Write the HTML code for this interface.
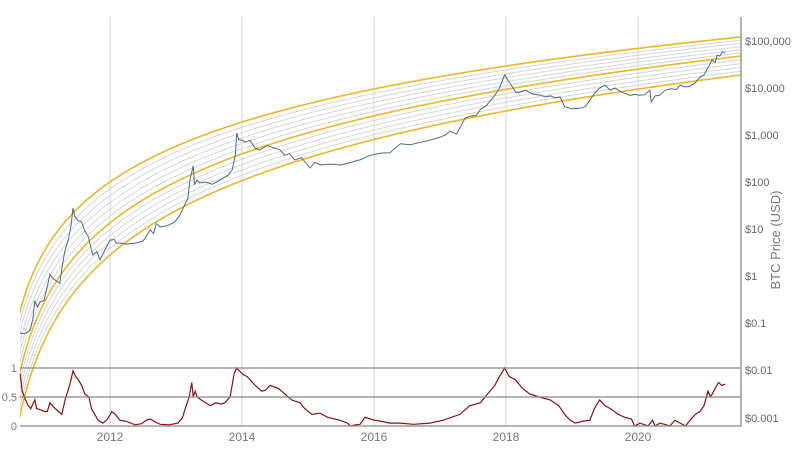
<!DOCTYPE html>
<html><head><meta charset="utf-8"><style>
html,body{margin:0;padding:0;background:#fff;}
svg{display:block;font-family:"Liberation Sans",sans-serif;}
</style></head><body>
<svg id="chart" width="800" height="460" viewBox="0 0 800 460">
<g id="grid"></g>
<g id="bands"></g>
<g id="series"></g>
<g id="axes"></g>
<text x="780" y="240" transform="rotate(-90 780 240)" text-anchor="middle" font-size="13" fill="#777">BTC Price (USD)</text>
</svg>
<script>
const xYears=[2012,2014,2016,2018,2020];
const priceTicks=[100000,10000,1000,100,10,1,0.1,0.01,0.001];
const priceTickLabels=["$100,000","$10,000","$1,000","$100","$10","$1","$0.1","$0.01","$0.001"];
const oscTicks=[1,0.5,0];
const oscTickLabels=["1","0.5","0"];
const bandStart=[2.0,1.13,0.447];
const bandEnd=[5.085,4.68,4.277];
const priceDates=[2010.64,2010.72,2010.79,2010.83,2010.86,2010.9,2010.94,2011.0,2011.05,2011.09,2011.13,2011.18,2011.24,2011.28,2011.32,2011.37,2011.41,2011.44,2011.47,2011.52,2011.57,2011.62,2011.67,2011.71,2011.74,2011.8,2011.85,2011.92,2012.0,2012.06,2012.1,2012.15,2012.25,2012.38,2012.5,2012.61,2012.66,2012.7,2012.76,2012.88,2012.98,2013.06,2013.12,2013.18,2013.21,2013.26,2013.28,2013.32,2013.36,2013.44,2013.55,2013.67,2013.79,2013.85,2013.9,2013.92,2013.95,2014.0,2014.05,2014.12,2014.2,2014.27,2014.38,2014.5,2014.58,2014.65,2014.72,2014.8,2014.9,2015.03,2015.1,2015.2,2015.33,2015.5,2015.64,2015.8,2015.94,2016.1,2016.24,2016.4,2016.55,2016.7,2016.85,2017.0,2017.08,2017.15,2017.25,2017.38,2017.45,2017.55,2017.61,2017.7,2017.83,2017.9,2017.98,2018.04,2018.09,2018.15,2018.21,2018.3,2018.4,2018.52,2018.6,2018.68,2018.74,2018.82,2018.89,2019.0,2019.12,2019.2,2019.27,2019.35,2019.42,2019.5,2019.58,2019.65,2019.75,2019.88,2019.95,2020.03,2020.1,2020.18,2020.2,2020.26,2020.33,2020.41,2020.5,2020.58,2020.64,2020.72,2020.79,2020.87,2020.94,2021.0,2021.04,2021.09,2021.12,2021.17,2021.2,2021.24,2021.28,2021.32];
const priceValues=[0.06,0.06,0.07,0.12,0.3,0.22,0.28,0.3,0.6,1.1,0.9,0.8,0.7,1.8,3.5,6,12,28,18,15,14,9,7,4,2.8,3.3,2.2,3.5,5.8,6,5,5,4.8,5,5.5,9.5,8,13,11,12,14,20,30,45,110,220,90,110,95,100,90,110,140,180,375,1100,800,780,700,780,520,480,600,520,480,370,400,295,330,200,260,230,240,230,260,300,370,410,420,650,620,700,780,900,1000,1200,1050,2300,2500,2600,3500,4200,7000,10000,19000,14000,11000,8000,8200,9000,7500,7000,6500,6800,6200,6400,4000,3600,3700,4000,5500,8000,10000,11500,9000,10000,8200,7000,7300,7000,7200,9000,5000,6800,7000,9000,9600,9300,11500,10500,11000,13000,17000,19000,24000,32000,40000,35000,50000,48000,58000,55000,60000];
const oscDates=[2010.64,2010.67,2010.72,2010.76,2010.8,2010.82,2010.86,2010.89,2010.95,2011.0,2011.05,2011.09,2011.13,2011.17,2011.22,2011.27,2011.32,2011.36,2011.4,2011.44,2011.48,2011.52,2011.57,2011.62,2011.68,2011.72,2011.77,2011.82,2011.89,2011.95,2012.03,2012.08,2012.15,2012.25,2012.38,2012.48,2012.55,2012.61,2012.7,2012.76,2012.9,2013.03,2013.1,2013.14,2013.2,2013.24,2013.26,2013.29,2013.32,2013.38,2013.52,2013.6,2013.68,2013.74,2013.82,2013.88,2013.92,2013.96,2014.0,2014.08,2014.2,2014.3,2014.36,2014.42,2014.55,2014.65,2014.75,2014.88,2014.95,2015.06,2015.18,2015.3,2015.48,2015.6,2015.64,2015.72,2015.79,2015.86,2015.95,2016.0,2016.12,2016.24,2016.39,2016.6,2016.85,2017.05,2017.3,2017.45,2017.61,2017.72,2017.83,2017.9,2017.98,2018.05,2018.14,2018.25,2018.36,2018.5,2018.67,2018.8,2018.89,2018.97,2019.05,2019.15,2019.27,2019.34,2019.42,2019.5,2019.58,2019.7,2019.8,2019.9,2019.95,2020.03,2020.1,2020.15,2020.22,2020.26,2020.33,2020.4,2020.48,2020.56,2020.64,2020.72,2020.79,2020.87,2020.94,2021.0,2021.06,2021.1,2021.17,2021.22,2021.27,2021.32];
const oscValues=[0.9,0.6,0.45,0.35,0.3,0.35,0.45,0.3,0.28,0.25,0.25,0.4,0.35,0.3,0.25,0.2,0.45,0.6,0.75,0.95,0.85,0.8,0.7,0.55,0.5,0.3,0.2,0.1,0.05,0.1,0.25,0.2,0.1,0.08,0.02,0.04,0.1,0.12,0.06,0.03,0.02,0.05,0.15,0.3,0.5,0.75,0.5,0.6,0.5,0.45,0.35,0.4,0.38,0.4,0.5,0.9,1.0,0.95,0.9,0.85,0.7,0.6,0.62,0.7,0.65,0.55,0.45,0.4,0.3,0.2,0.22,0.15,0.1,0.05,0.0,0.02,0.03,0.15,0.12,0.1,0.08,0.05,0.05,0.03,0.05,0.1,0.2,0.35,0.4,0.55,0.7,0.85,1.0,0.85,0.8,0.65,0.55,0.5,0.45,0.35,0.2,0.1,0.05,0.08,0.1,0.3,0.45,0.35,0.3,0.2,0.15,0.12,0.0,0.05,0.02,0.0,0.1,0.0,0.05,0.03,0.0,0.1,0.05,0.0,0.1,0.2,0.25,0.35,0.6,0.5,0.65,0.75,0.7,0.72];

const NS="http://www.w3.org/2000/svg";
const X0=20,X1=741,TOP=17,BOT=426;
function xScale(yr){return 110+(yr-2012)*66;}
function yPrice(p){return 41+(5-Math.log10(p))*47;}
function yLog(l){return 41+(5-l)*47;}
function yOsc(v){return 426-v*58;}
function mk(tag,attrs,parent){const e=document.createElementNS(NS,tag);for(const k in attrs)e.setAttribute(k,attrs[k]);parent.appendChild(e);return e;}
const grid=document.getElementById('grid'),bands=document.getElementById('bands'),series=document.getElementById('series'),axes=document.getElementById('axes');

xYears.forEach((yr,i)=>{
  const x=xScale(yr);
  const l=mk('line',{x1:x,x2:x,y1:TOP,y2:BOT,stroke:'#d4d4d4','stroke-width':1},grid);
  
  
  const t=mk('text',{x:x,y:441,'text-anchor':'middle','font-size':12,fill:'#777'},axes);
  t.textContent=String(yr);
  
  
});

const defs=mk('defs',{},document.getElementById('chart'));
const cp=mk('clipPath',{id:'clipMain'},defs);
mk('rect',{x:X0,y:TOP,width:X1-X0,height:BOT-TOP},cp);
bands.setAttribute('clip-path','url(#clipMain)');
function bandPath(a,b){
  const lx0=Math.log10(110),lx1=Math.log10(741);
  const s=(b-a)/(lx1-lx0);
  let d='';
  for(let x=X0-2;x<=X1;x+=1){const v=a+s*(Math.log10(x)-lx0);d+=(d?'L':'M')+x+','+yLog(v).toFixed(2);}
  return d;
}
const lines=[];
for(let k=0;k<2;k++){
  const n=k===0?6:5;
  for(let j=0;j<=n;j++){
    if(k===1&&j===0)continue;
    const f=j/n;
    lines.push({a:bandStart[k]+(bandStart[k+1]-bandStart[k])*f,b:bandEnd[k]+(bandEnd[k+1]-bandEnd[k])*f,main:(j===0||j===n)});
  }
}
lines.filter(l=>!l.main).forEach((l,i)=>{
  const p=mk('path',{d:bandPath(l.a,l.b),fill:'none',stroke:'#d6d6d6','stroke-width':1},bands);
  
  
});
lines.filter(l=>l.main).forEach((l,i)=>{
  const p=mk('path',{d:bandPath(l.a,l.b),fill:'none',stroke:'#f0b429','stroke-width':1.6},bands);
  
  
});

oscTicks.forEach((v,i)=>{
  const y=yOsc(v);
  const l=mk('line',{x1:X0,x2:X1,y1:y,y2:y,stroke:'#888','stroke-width':1.3},axes);
  
  
  const t=mk('text',{x:17,y:y+4,'text-anchor':'end','font-size':11,fill:'#777'},axes);
  t.textContent=oscTickLabels[i];
  
  
});
const ax=mk('line',{x1:X1,x2:X1,y1:TOP,y2:BOT,stroke:'#888','stroke-width':1.3},axes);


priceTicks.forEach((p,i)=>{
  const y=p>=0.01?yPrice(p):418;
  const t=mk('text',{x:745,y:y+4,'font-size':11,fill:'#666'},axes);
  t.textContent=priceTickLabels[i];
  
  
});

let d='';
priceDates.forEach((yr,i)=>{d+=(i?'L':'M')+xScale(yr).toFixed(1)+','+yPrice(priceValues[i]).toFixed(1);});
const pp=mk('path',{d:d,fill:'none',stroke:'#4a6a8a','stroke-width':1},series);



let d2='';
oscDates.forEach((yr,i)=>{d2+=(i?'L':'M')+xScale(yr).toFixed(1)+','+yOsc(oscValues[i]).toFixed(1);});
const op=mk('path',{d:d2,fill:'none',stroke:'#8b1010','stroke-width':1.2},series);


</script>
</body></html>
